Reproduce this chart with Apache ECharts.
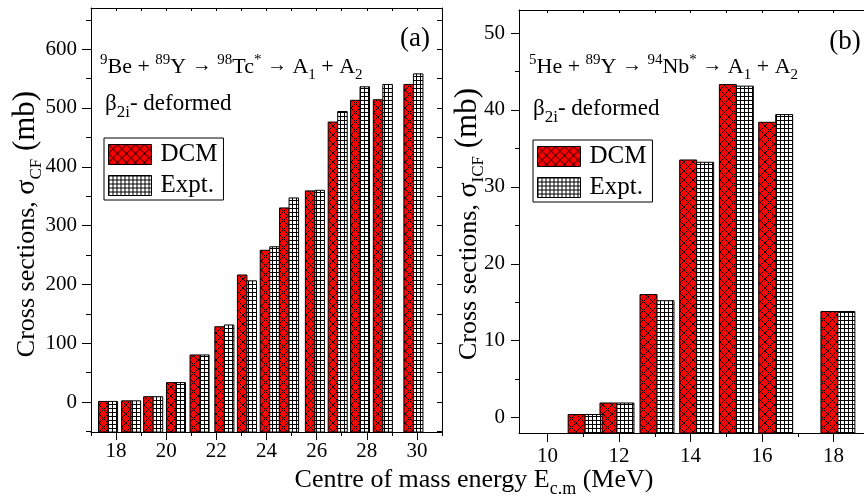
<!DOCTYPE html>
<html>
<head>
<meta charset="utf-8">
<script src="https://cdn.jsdelivr.net/npm/echarts@6.0.0/dist/echarts.min.js"></script>
<style>
    html, body { margin: 0; padding: 0; background: #fff; }
    #chart { width: 864px; height: 500px; }
</style>
</head>
<body>
<div id="chart"></div>
<script>
// panel (a): 9Be + 89Y, sigma_CF
let energyA = [17.68, 18.60, 19.48, 20.39, 21.33, 22.32, 23.22, 24.13, 24.90, 25.93, 26.84, 27.73, 28.64, 29.86];
let dcmA = [1, 2, 9, 33, 80, 128, 216, 258, 330, 359, 476, 513, 514, 540];
let exptA = [1, 2, 9, 33, 80, 131, 206, 264, 347, 360, 494, 536, 540, 558];

// panel (b): 5He + 89Y, sigma_ICF
let energyB = [11.05, 11.94, 13.06, 14.17, 15.28, 16.38, 18.12];
let dcmB = [0.4, 1.9, 16.0, 33.5, 43.3, 38.4, 13.8];
let exptB = [0.4, 1.9, 15.2, 33.2, 43.1, 39.4, 13.8];

let ticksA = [18, 20, 22, 24, 26, 28, 30];
let ticksB = [10, 12, 14, 16, 18];
let yTicksA = [0, 100, 200, 300, 400, 500, 600];
let yTicksB = [0, 10, 20, 30, 40, 50];

const SERIF = 'Liberation Serif';

let make_pattern = function (n, draw) {
    let c = document.createElement('canvas');
    c.width = n;
    c.height = n;
    draw(c.getContext('2d'), n);
    return {image: c, repeat: 'repeat'};
};

// red fill with black cross-hatching
let crossHatch = make_pattern(9, function (ctx, n) {
    ctx.fillStyle = '#ff0000';
    ctx.fillRect(0, 0, n, n);
    ctx.fillStyle = '#000';
    for (let i = 0; i < n; i++) {
        ctx.fillRect(i, i, 1, 1);
        ctx.fillRect(n - 1 - i, i, 1, 1);
    }
});

// white fill with square grid
let gridHatch = make_pattern(4, function (ctx, n) {
    ctx.fillStyle = '#fff';
    ctx.fillRect(0, 0, n, n);
    ctx.fillStyle = '#000';
    ctx.fillRect(0, 0, n, 1);
    ctx.fillRect(0, 0, 1, n);
});

let range = function (a, b, step) {
    let out = [];
    for (let v = a; v <= b + 1e-9; v += step) out.push(+v.toFixed(3));
    return out;
};

// rich text token: size and baseline position inside the block
let tok = function (size, base) {
    return {
        fontFamily: SERIF, fontSize: size, lineHeight: size, verticalAlign: 'top', color: '#000',
        padding: [Math.max(0, base - 0.84 * size), 0, 0, 0]
    };
};

let bar_renderer = function (side, width, base, fill) {
    return function (params, api) {
        let x = api.value(0);
        let top = api.coord([x, api.value(1)]);
        let bottom = api.coord([x, base]);
        let w = api.size([width, 0])[0];
        return {
            type: 'rect',
            shape: {x: side < 0 ? top[0] - w : top[0], y: top[1], width: w, height: bottom[1] - top[1]},
            style: {fill: fill, stroke: '#000', lineWidth: 1}
        };
    };
};

let pairs = function (xs, ys) {
    return xs.map(function (x, i) { return [x, ys[i]]; });
};

let axisBase = {
    type: 'value',
    axisLine: {show: true, onZero: false, lineStyle: {color: '#000', width: 1}},
    axisTick: {show: true, inside: false, length: 8, lineStyle: {color: '#000', width: 1}},
    axisLabel: {show: false},
    splitLine: {show: false}
};

let axis = function (extra) {
    return echarts.util.merge(echarts.util.clone(axisBase), extra, true);
};

let labelStyle = {show: true, color: '#000', fontFamily: SERIF, fontSize: 21};

let container = echarts.init(document.getElementById('chart'));

let legendBase = function (left, top) {
    return {
        left: left, top: top, orient: 'vertical', selectedMode: false,
        itemWidth: 43, itemHeight: 20, itemGap: 6,
        borderColor: '#000', borderWidth: 1, padding: [4, 6, 2, 4],
        textStyle: {fontFamily: SERIF, fontSize: 25, color: '#000', padding: [0, 0, 0, 4]},
        data: [
            {name: 'DCM', icon: 'rect', itemStyle: {color: crossHatch, borderColor: '#000', borderWidth: 1}},
            {name: 'Expt.', icon: 'rect', itemStyle: {color: gridHatch, borderColor: '#000', borderWidth: 1}}
        ]
    };
};

let reactionRich = {m: tok(22, 25), a: tok(20, 23), s: tok(15, 15), b: tok(15, 30)};

let option = {
    animation: false,
    backgroundColor: '#fff',
    grid: [
        {left: 91, top: 8, width: 351, height: 424},
        {left: 519, top: 10, width: 345, height: 423}
    ],
    xAxis: [
        axis({gridIndex: 0, min: 17, max: 31, position: 'bottom',
            axisTick: {customValues: ticksA, length: 8},
            axisLabel: echarts.util.extend({customValues: ticksA, margin: 9}, labelStyle)}),
        axis({gridIndex: 0, min: 17, max: 31, position: 'bottom', axisLine: {show: false},
            axisTick: {customValues: range(17, 31, 2), length: 4}}),
        axis({gridIndex: 0, min: 17, max: 31, position: 'top',
            axisTick: {customValues: range(17, 31, 1), length: 3, inside: true}}),
        axis({gridIndex: 1, min: 9.2, max: 18.85, position: 'bottom',
            axisTick: {customValues: ticksB, length: 9},
            axisLabel: echarts.util.extend({customValues: ticksB, margin: 13}, labelStyle)}),
        axis({gridIndex: 1, min: 9.2, max: 18.85, position: 'bottom', axisLine: {show: false},
            axisTick: {customValues: range(11, 17, 2), length: 4}}),
        axis({gridIndex: 1, min: 9.2, max: 18.85, position: 'top',
            axisTick: {customValues: range(10, 18, 1), length: 3, inside: true}})
    ],
    yAxis: [
        axis({gridIndex: 0, min: -51, max: 670, position: 'left',
            axisTick: {customValues: yTicksA, length: 9},
            axisLabel: echarts.util.extend({customValues: yTicksA, margin: 14}, labelStyle)}),
        axis({gridIndex: 0, min: -51, max: 670, position: 'left', axisLine: {show: false},
            axisTick: {customValues: range(-50, 650, 100), length: 5}}),
        axis({gridIndex: 0, min: -51, max: 670, position: 'right',
            axisTick: {customValues: range(-50, 650, 50), length: 5, inside: true}}),
        axis({gridIndex: 1, min: -2, max: 53, position: 'left',
            axisTick: {customValues: yTicksB, length: 8},
            axisLabel: echarts.util.extend({customValues: yTicksB, margin: 14}, labelStyle)}),
        axis({gridIndex: 1, min: -2, max: 53, position: 'left', axisLine: {show: false},
            axisTick: {customValues: range(5, 45, 10), length: 4}})
    ],
    legend: [legendBase(104, 138), legendBase(533, 140)],
    series: [
        {name: 'DCM', type: 'custom', xAxisIndex: 0, yAxisIndex: 0, silent: true,
            itemStyle: {color: crossHatch, borderColor: '#000', borderWidth: 1},
            renderItem: bar_renderer(-1, 0.38, -51, crossHatch), data: pairs(energyA, dcmA)},
        {name: 'Expt.', type: 'custom', xAxisIndex: 0, yAxisIndex: 0, silent: true,
            itemStyle: {color: gridHatch, borderColor: '#000', borderWidth: 1},
            renderItem: bar_renderer(1, 0.38, -51, gridHatch), data: pairs(energyA, exptA)},
        {name: 'DCM', type: 'custom', xAxisIndex: 3, yAxisIndex: 3, silent: true,
            itemStyle: {color: crossHatch, borderColor: '#000', borderWidth: 1},
            renderItem: bar_renderer(-1, 0.475, -2, crossHatch), data: pairs(energyB, dcmB)},
        {name: 'Expt.', type: 'custom', xAxisIndex: 3, yAxisIndex: 3, silent: true,
            itemStyle: {color: gridHatch, borderColor: '#000', borderWidth: 1},
            renderItem: bar_renderer(1, 0.475, -2, gridHatch), data: pairs(energyB, exptB)}
    ],
    graphic: [
        // panel labels
        {type: 'text', x: 415, y: 39, style: {text: '(a)', fontFamily: SERIF, fontSize: 27, fill: '#000', align: 'center', verticalAlign: 'middle'}},
        {type: 'text', x: 845, y: 42, style: {text: '(b)', fontFamily: SERIF, fontSize: 27, fill: '#000', align: 'center', verticalAlign: 'middle'}},
        // reactions
        {type: 'text', x: 100, y: 50, style: {
            text: '{s|9}{m|Be + }{s|89}{m|Y }{a|→}{m| }{s|98}{m|Tc}{s|*}{m| }{a|→}{m| A}{b|1}{m| + A}{b|2}',
            rich: reactionRich}},
        {type: 'text', x: 529, y: 50, style: {
            text: '{s|5}{m|He + }{s|89}{m|Y }{a|→}{m| }{s|94}{m|Nb}{s|*}{m| }{a|→}{m| A}{b|1}{m| + A}{b|2}',
            rich: reactionRich}},
        {type: 'text', x: 105, y: 87, style: {
            text: '{m|β}{b|2i}{m|- deformed}',
            rich: {m: tok(23, 25), b: tok(17, 31)}}},
        {type: 'text', x: 533, y: 92, style: {
            text: '{m|β}{b|2i}{m|- deformed}',
            rich: {m: tok(23, 25), b: tok(17, 31)}}},
        // axis titles
        {type: 'text', x: 22, y: 224, rotation: Math.PI / 2, style: {
            text: '{m|Cross sections, }{g|σ}{b|CF}{p| (mb)}', align: 'center', verticalAlign: 'middle',
            rich: {m: tok(26, 30), g: tok(28, 30), b: tok(17, 36), p: tok(31, 30)}}},
        {type: 'text', x: 464, y: 224, rotation: Math.PI / 2, style: {
            text: '{m|Cross sections, }{g|σ}{b|ICF}{p| (mb)}', align: 'center', verticalAlign: 'middle',
            rich: {m: tok(26, 30), g: tok(28, 30), b: tok(17, 36), p: tok(31, 30)}}},
        {type: 'text', x: 474, y: 461, style: {
            text: '{m|Centre of mass energy E}{b|c.m}{m| (MeV)}', align: 'center', verticalAlign: 'top',
            rich: {m: tok(26, 28), b: tok(18, 34)}}}
    ]
};
container.setOption(option, true);
</script>
</body>
</html>
